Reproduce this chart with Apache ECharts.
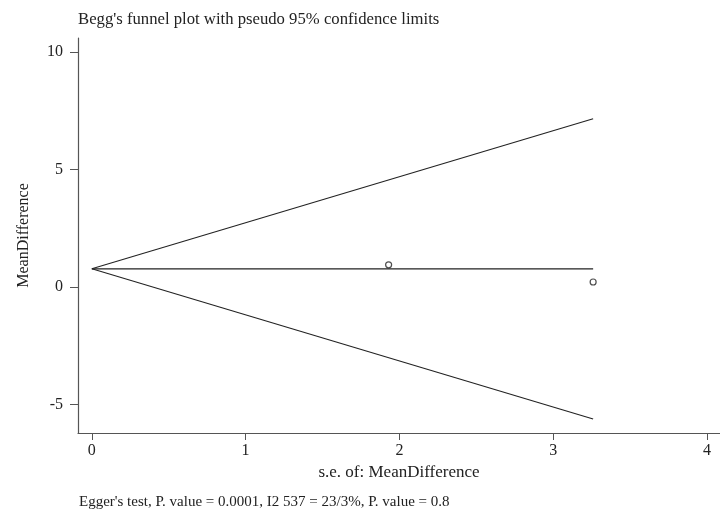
<!DOCTYPE html>
<html>
<head>
<meta charset="utf-8">
<script src="https://cdn.jsdelivr.net/npm/echarts@6/dist/echarts.min.js"></script>
<style>
html,body{margin:0;padding:0;background:#fff;}
#chart{width:720px;height:511px;}
</style>
</head>
<body>
<div id="chart"></div>
<script>
// Study estimates: standard error vs mean difference
var studySE = [1.93, 3.26];
var studyMD = [0.94, 0.21];

// Pooled estimate line and pseudo 95% limits (from se = 0 to the largest se)
var limitSE = [0, 3.26];
var pooledMD = [0.77, 0.77];
var upperLimit = [0.77, 7.16];
var lowerLimit = [0.77, -5.62];

// Axis tick labels
var xTicks = [0, 1, 2, 3, 4];
var yTicks = [-5, 0, 5, 10];

var titleText = "Begg's funnel plot with pseudo 95% confidence limits";
var footText = "Egger's test, P. value = 0.0001, I2 537 = 23/3%, P. value = 0.8";

function pairs(xs, ys) {
  return xs.map(function (x, i) { return [x, ys[i]]; });
}

var serif = '"Liberation Serif", "DejaVu Serif", serif';
var ink = '#222';
var axisInk = '#555';

var lineStyle = { color: ink, width: 1.1 };

var chart = echarts.init(document.getElementById('chart'), null, { renderer: 'canvas' });
chart.setOption({
  animation: false,
  backgroundColor: '#fff',
  title: {
    text: titleText,
    left: 73,
    top: 6,
    textStyle: { fontFamily: serif, fontSize: 16.7, fontWeight: 'normal', color: ink }
  },
  graphic: [{
    type: 'text',
    left: 79,
    top: 495,
    style: { text: footText, font: '15px ' + serif, fill: ink }
  }],
  grid: { left: 78, top: 38, right: 0, bottom: 78, containLabel: false },
  xAxis: {
    type: 'value',
    min: -0.09,
    max: 4.085,
    name: 's.e. of: MeanDifference',
    nameLocation: 'middle',
    nameGap: 30,
    nameTextStyle: { fontFamily: serif, fontSize: 17, color: ink, verticalAlign: 'top' },
    axisLine: { show: true, onZero: false, lineStyle: { color: axisInk, width: 1.2 } },
    axisTick: { show: true, length: 7, customValues: xTicks, lineStyle: { color: axisInk } },
    axisLabel: { customValues: xTicks, fontFamily: serif, fontSize: 16, color: ink, margin: 10 },
    splitLine: { show: false }
  },
  yAxis: {
    type: 'value',
    min: -6.22,
    max: 10.6,
    name: 'MeanDifference',
    nameLocation: 'middle',
    nameGap: 46,
    nameRotate: 90,
    nameTextStyle: { fontFamily: serif, fontSize: 16, color: ink },
    axisLine: { show: true, onZero: false, lineStyle: { color: axisInk, width: 1.2 } },
    axisTick: { show: true, length: 8, customValues: yTicks, lineStyle: { color: axisInk } },
    axisLabel: { customValues: yTicks, fontFamily: serif, fontSize: 16, color: ink, margin: 15 },
    splitLine: { show: false }
  },
  series: [
    { type: 'line', data: pairs(limitSE, upperLimit), symbol: 'none', lineStyle: lineStyle, silent: true },
    { type: 'line', data: pairs(limitSE, lowerLimit), symbol: 'none', lineStyle: lineStyle, silent: true },
    { type: 'line', data: pairs(limitSE, pooledMD), symbol: 'none', lineStyle: lineStyle, silent: true },
    {
      type: 'scatter',
      data: pairs(studySE, studyMD),
      symbol: 'circle',
      symbolSize: 6,
      itemStyle: { color: '#fff', borderColor: ink, borderWidth: 1.2 }
    }
  ]
});
</script>
</body>
</html>
